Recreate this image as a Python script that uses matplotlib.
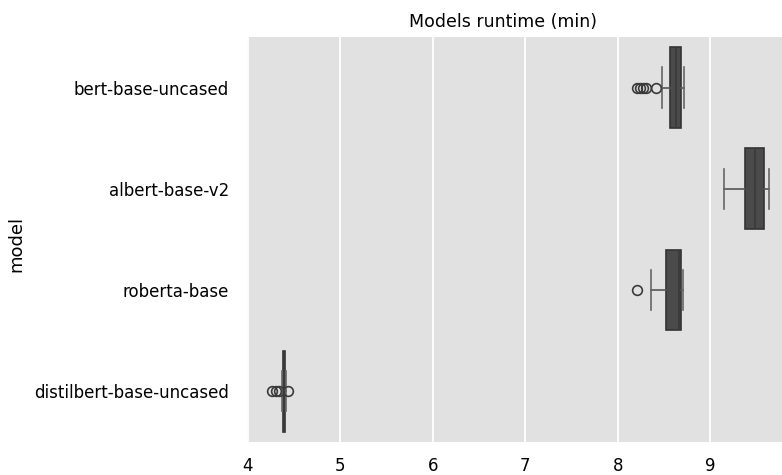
import matplotlib
matplotlib.use('Agg')
import matplotlib.pyplot as plt

# box statistics (runtime in minutes)
models = ['bert-base-uncased', 'albert-base-v2', 'roberta-base', 'distilbert-base-uncased']
whislo = [8.48, 9.15, 8.36, 4.37]
q1 = [8.57, 9.37, 8.52, 4.38]
med = [8.63, 9.48, 8.66, 4.39]
q3 = [8.68, 9.58, 8.68, 4.40]
whishi = [8.72, 9.63, 8.71, 4.42]
fliers = [[8.21, 8.24, 8.27, 8.31, 8.41], [], [8.21], [4.26, 4.31, 4.34, 4.44]]

stats = []
for i, m in enumerate(models):
    stats.append(dict(label=m, whislo=whislo[i], q1=q1[i], med=med[i],
                      q3=q3[i], whishi=whishi[i], fliers=fliers[i]))

plt.rcParams['font.family'] = ['DejaVu Sans']
fig = plt.figure(figsize=(7.82, 4.75), dpi=100)
ax = fig.add_axes([0.316, 0.07, 0.684, 0.852])
ax.set_facecolor('#e1e1e1')

ax.bxp(stats, positions=range(len(models)), vert=False, widths=0.8,
       capwidths=0.4, patch_artist=True,
       boxprops=dict(facecolor='#4b4b4b', edgecolor='#333333', linewidth=1.2),
       medianprops=dict(color='#3a3a3a', linewidth=1.2),
       whiskerprops=dict(color='#555555', linewidth=1.2),
       capprops=dict(color='#666666', linewidth=1.2),
       flierprops=dict(marker='o', markerfacecolor='none', markeredgecolor='#3a3a3a',
                       markersize=7, markeredgewidth=1.2))

ax.set_xlim(3.995, 9.775)
ax.set_ylim(3.5, -0.5)
ax.set_xticks([4, 5, 6, 7, 8, 9])
ax.set_yticks(range(len(models)))
ax.set_yticklabels(models)
ax.grid(axis='x', color='white', linewidth=1.3)
ax.set_axisbelow(True)
for s in ax.spines.values():
    s.set_visible(False)
ax.tick_params(axis='x', length=0, pad=11, labelsize=12)
ax.tick_params(axis='y', length=0, pad=13, labelsize=12)
ax.set_ylabel('model', fontsize=13)
ax.yaxis.set_label_coords(-0.415, 0.49)
ax.set_title('Models runtime (min)', fontsize=12.5, x=0.478, pad=7)

fig.savefig('out.png', dpi=100)
